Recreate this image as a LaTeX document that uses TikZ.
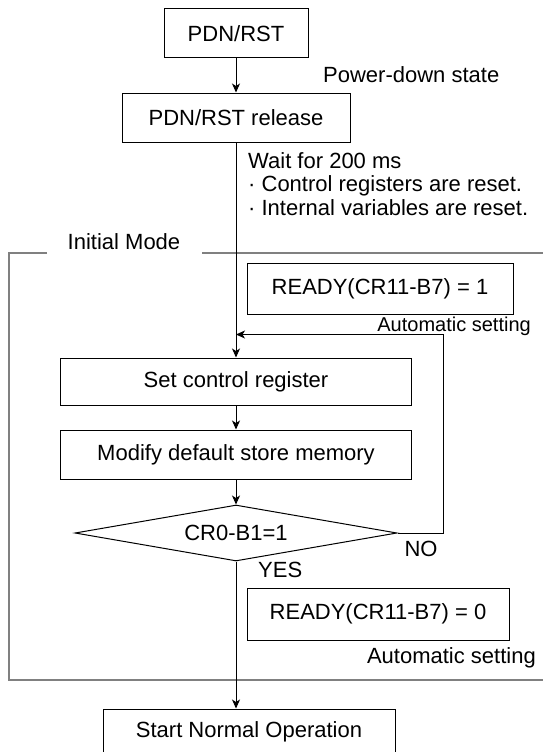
\documentclass[tikz,border=0pt]{standalone}
\usepackage{fontspec}
\setmainfont{Liberation Sans}
\usetikzlibrary{positioning,shapes.geometric,arrows.meta}

\tikzset{
  box/.style={draw, line width=1pt, minimum height=49pt, inner sep=2pt},
  decision/.style={draw, diamond, line width=1pt, shape aspect=6, inner sep=0pt,
    minimum width=322pt, minimum height=56pt},
  arr/.style={line width=1pt, -{Stealth[length=9pt,width=8pt,inset=2.5pt]}},
  frame/.style={draw=gray, line width=2pt},
  note/.style={inner sep=0pt}
}

\begin{document}
\begin{tikzpicture}[x=1pt, y=1pt, font=\fontsize{22}{23.5}\selectfont]
  \useasboundingbox (0,0) rectangle (542,-752);

  % initial mode frame
  \node[note] (mode) at (124,-242) {Initial Mode};
  \draw[frame] (47,-253) -- (9,-253) -- (9,-680) -- (545,-680);
  \draw[frame] (202,-253) -- (545,-253);

  % main flow
  \node[box, minimum width=144pt] (pdn) at (236,-33.5) {PDN/RST};
  \node[box, minimum width=228pt, below=34pt of pdn] (rel) {PDN/RST release};
  \node[box, minimum width=351pt, minimum height=47pt, below=215pt of rel] (setreg) {Set control register};
  \node[box, minimum width=351pt, below=24pt of setreg] (modify) {Modify default store memory};
  \node[decision, below=25pt of modify] (cond) {CR0-B1=1};
  \node[box, minimum width=292pt, minimum height=46pt, below=147pt of cond, xshift=13pt] (start) {Start Normal Operation};

  % side notes
  \node[note, anchor=west] (pwr) at (323,-75) {Power-down state};
  \node[note, anchor=north west, align=left] (wait) at (248,-152)
    {Wait for 200 ms\\ · Control registers are reset.\\ · Internal variables are reset.};
  \node[box, minimum width=266pt, minimum height=51pt] (ready1) at (380,-288.5) {READY(CR11-B7) = 1};
  \node[note, anchor=east, font=\fontsize{20}{22}\selectfont] (auto1) at (531,-326) {Automatic setting};
  \node[box, minimum width=262pt, minimum height=52pt] (ready0) at (378,-614) {READY(CR11-B7) = 0};
  \node[note, anchor=east] (auto0) at (536,-658) {Automatic setting};
  \node[note] (no) at (421,-549) {NO};
  \node[note, anchor=west] (yes) at (258,-570) {YES};

  % connectors
  \coordinate[below=192pt of rel.south] (join);
  \draw[arr] (pdn) -- (rel);
  \draw[arr] (rel) -- (setreg);
  \draw[arr] (setreg) -- (modify);
  \draw[arr] (modify) -- (cond);
  \draw[arr] (cond.east) -- ++(46pt,0) |- (join);
  \draw[arr] (cond) -- (cond |- start.north);

\end{tikzpicture}
\end{document}
